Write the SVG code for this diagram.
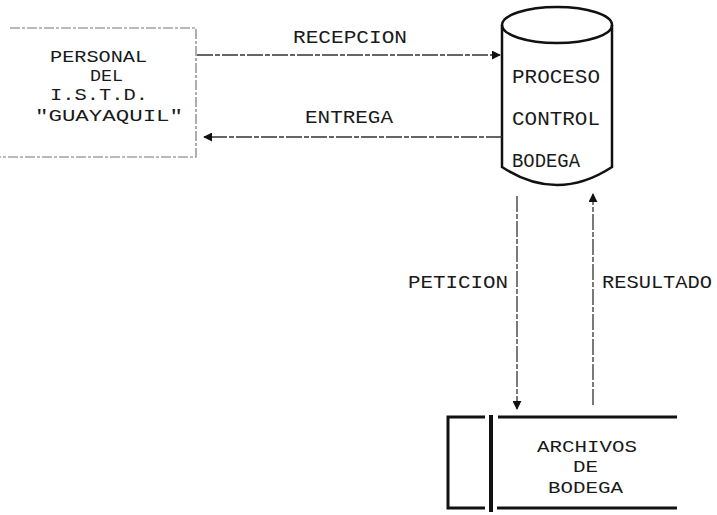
<svg xmlns="http://www.w3.org/2000/svg" width="717" height="515" viewBox="0 0 717 515">
<defs>
<style>
text{font-family:"Liberation Mono","DejaVu Sans Mono",monospace;font-size:19px;fill:#1a1a1a}
.big{font-size:21px}
.sm{font-size:16px}
.flow{stroke:#333;stroke-width:1.3;fill:none;stroke-dasharray:16 2 5 2}
.ext{stroke:#777;stroke-width:1.2;fill:none;stroke-dasharray:10 2 3 2}
.store{stroke:#111;stroke-width:3;fill:none}
.proc{stroke:#111;stroke-width:2.5;fill:none}
</style>
<marker id="ah" viewBox="0 0 10 10" refX="9" refY="5" markerWidth="9" markerHeight="9" orient="auto" markerUnits="userSpaceOnUse">
<path d="M0,0 L10,5 L0,10 Z" fill="#111"/>
</marker>
</defs>
<rect width="717" height="515" fill="#fff"/>
<g id="personal">
<path class="ext" d="M10,28 H196 V157 H0"/>
<text class="sm" x="50" y="62" textLength="97" lengthAdjust="spacingAndGlyphs">PERSONAL</text>
<text class="sm" x="90" y="81" textLength="33" lengthAdjust="spacingAndGlyphs">DEL</text>
<text class="sm" x="50" y="100" textLength="98" lengthAdjust="spacingAndGlyphs">I.S.T.D.</text>
<text class="sm" x="35" y="121" textLength="148" lengthAdjust="spacingAndGlyphs">"GUAYAQUIL"</text>
</g>
<g id="proceso">
<ellipse class="proc" cx="557" cy="25" rx="55" ry="18"/>
<path class="proc" d="M502,25 V167 Q557,203 612,167 V25"/>
<text class="big" x="512" y="83" textLength="88" lengthAdjust="spacingAndGlyphs">PROCESO</text>
<text class="big" x="512" y="125" textLength="88" lengthAdjust="spacingAndGlyphs">CONTROL</text>
<text class="big" x="512" y="167" textLength="68" lengthAdjust="spacingAndGlyphs">BODEGA</text>
</g>
<g id="archivos">
<path class="store" d="M485,417 H448 V508 H485"/>
<path class="store" d="M498,417 H677 M497,508 H677"/>
<line x1="491" y1="415" x2="491" y2="512" stroke="#111" stroke-width="4"/>
<text class="sm" x="537" y="452" textLength="100" lengthAdjust="spacingAndGlyphs">ARCHIVOS</text>
<text class="sm" x="573" y="472" textLength="25" lengthAdjust="spacingAndGlyphs">DE</text>
<text class="sm" x="548" y="493" textLength="75" lengthAdjust="spacingAndGlyphs">BODEGA</text>
</g>
<g id="connectors">
<line class="flow" x1="197" y1="55" x2="500" y2="55" marker-end="url(#ah)"/>
<text x="293" y="43" textLength="114" lengthAdjust="spacingAndGlyphs">RECEPCION</text>
<line class="flow" x1="502" y1="137" x2="204" y2="137" marker-end="url(#ah)"/>
<text x="305" y="123" textLength="88" lengthAdjust="spacingAndGlyphs">ENTREGA</text>
<line class="flow" x1="517" y1="196" x2="517" y2="409" marker-end="url(#ah)"/>
<text x="408" y="288" textLength="100" lengthAdjust="spacingAndGlyphs">PETICION</text>
<line class="flow" x1="593" y1="405" x2="593" y2="194" marker-end="url(#ah)"/>
<text x="602" y="288" textLength="110" lengthAdjust="spacingAndGlyphs">RESULTADO</text>
</g>
</svg>
